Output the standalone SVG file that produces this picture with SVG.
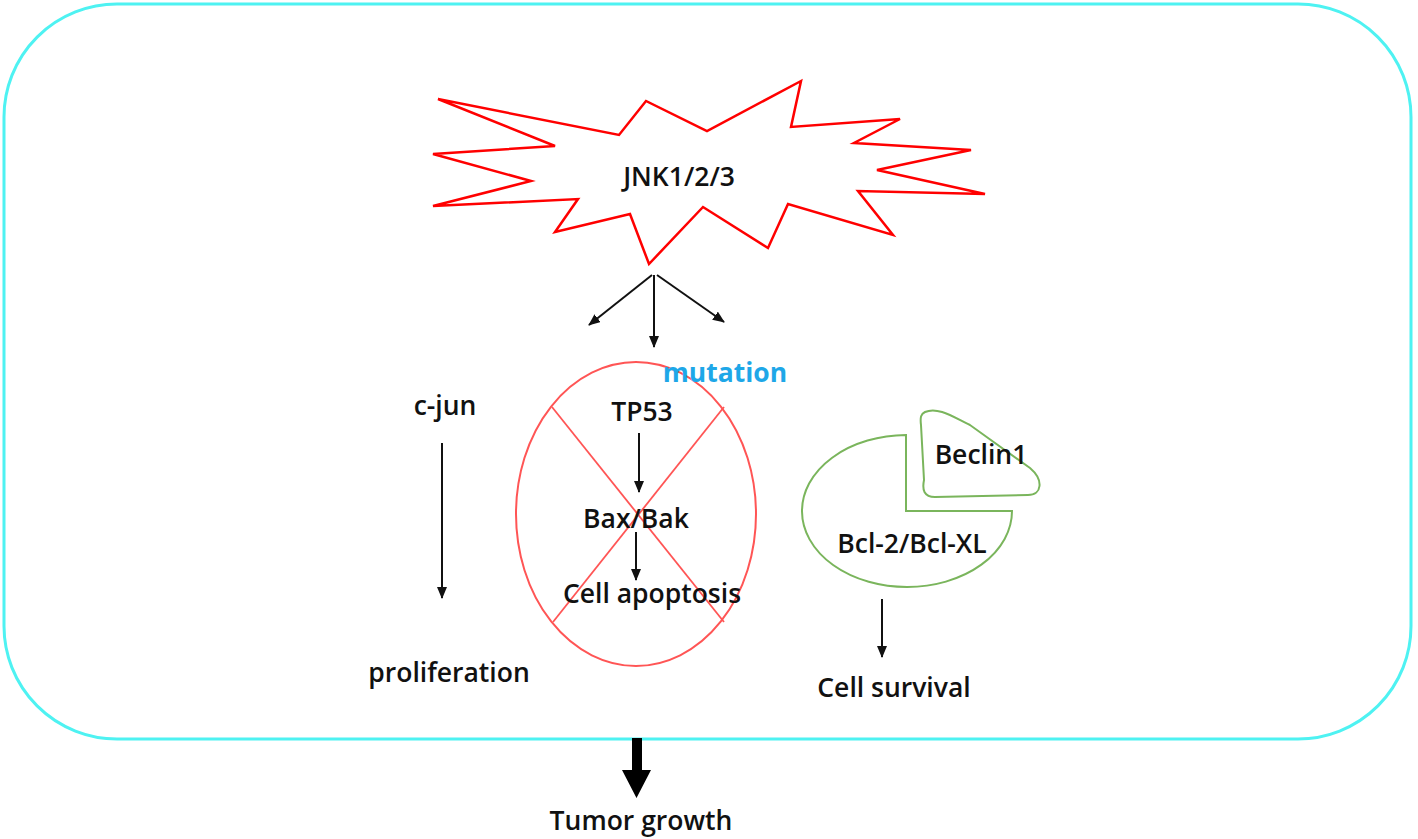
<svg xmlns="http://www.w3.org/2000/svg" width="1418" height="839" viewBox="0 0 1418 839">
<style>
.t{font-family:"Open Sans","Noto Sans","Liberation Sans",sans-serif;font-weight:600;font-size:26.5px;fill:#111;text-anchor:middle}
.c{fill:none;stroke:#111;stroke-width:2}
.g{fill:none;stroke:#7ab55c;stroke-width:2}
</style>
<defs>
<marker id="ah" markerUnits="userSpaceOnUse" markerWidth="14" markerHeight="12" refX="11" refY="5" orient="auto">
<path d="M0,0 L12,5 L0,10 Z" fill="#111"/>
</marker>
</defs>
<rect x="4" y="4" width="1407" height="735" rx="113" ry="113" fill="#fff" stroke="#4ef2f2" stroke-width="3"/>
<g id="jnk">
<polygon points="438,99 619,135 646,101 707,131 801,81 791,127 900,119 854,143 971,150 877,170 985,194 858,191 893,235 788,204 768,248 703,207 649,264 630,214 555,232 578,199 433,206 531,181 433,154 555,146" fill="#fff" stroke="#f00" stroke-width="2.5" stroke-linejoin="miter"/>
<text class="t" x="679" y="186">JNK1/2/3</text>
</g>
<g id="tp53-pathway">
<ellipse cx="636" cy="514" rx="120" ry="152" fill="none" stroke="#f55" stroke-width="2"/>
<line x1="552" y1="407" x2="724" y2="622" stroke="#f55" stroke-width="1.8"/>
<line x1="724" y1="407" x2="553" y2="622" stroke="#f55" stroke-width="1.8"/>
<text class="t" x="642" y="421">TP53</text>
<text class="t" x="636" y="528">Bax/Bak</text>
<text class="t" x="652" y="603">Cell apoptosis</text>
<text class="t" x="725" y="382" style="fill:#1ea7e8;font-weight:700">mutation</text>
</g>
<g id="cjun">
<text class="t" x="445" y="415">c-jun</text>
</g>
<g id="proliferation">
<text class="t" x="449" y="682">proliferation</text>
</g>
<g id="bcl2">
<path class="g" d="M906,435 L906,511 L1012,511 A105,76 0 1,1 906,435 Z"/>
<text class="t" x="912" y="553">Bcl-2/Bcl-XL</text>
</g>
<g id="beclin1">
<path class="g" d="M925,412 C938,406 955,418 970,425 L1030,468 C1044,480 1042,495 1028,495 L935,497 C924,497 922,490 924,480 L921,425 C920,417 921,414 925,412 Z"/>
<text class="t" x="981" y="464">Beclin1</text>
</g>
<g id="cell-survival">
<text class="t" x="894" y="697">Cell survival</text>
</g>
<g id="tumor-growth">
<text class="t" x="641" y="830">Tumor growth</text>
</g>
<g id="connectors">
<line class="c" x1="652" y1="275" x2="589" y2="325" marker-end="url(#ah)"/>
<line class="c" x1="654" y1="275" x2="654" y2="347" marker-end="url(#ah)"/>
<line class="c" x1="657" y1="275" x2="724" y2="322" marker-end="url(#ah)"/>
<line class="c" x1="639" y1="433" x2="639" y2="492" marker-end="url(#ah)"/>
<line class="c" x1="636" y1="532" x2="636" y2="580" marker-end="url(#ah)"/>
<line class="c" x1="442" y1="443" x2="442" y2="598" marker-end="url(#ah)"/>
<line class="c" x1="882" y1="599" x2="882" y2="657" marker-end="url(#ah)"/>
<path d="M632,738 L642,738 L642,770 L651,770 L636.5,798 L622,770 L632,770 Z" fill="#000"/>
</g>
</svg>
